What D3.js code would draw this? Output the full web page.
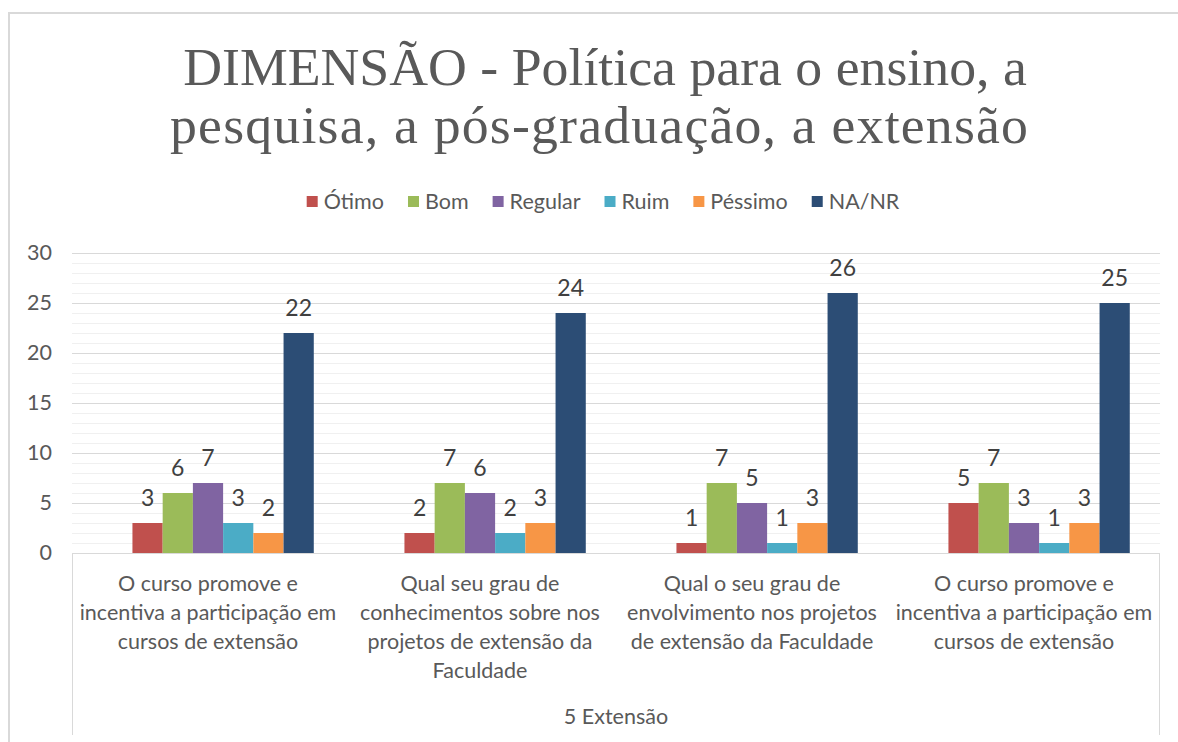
<!DOCTYPE html>
<html>
<head>
<meta charset="utf-8">
<script src="https://cdn.jsdelivr.net/npm/d3@7"></script>
<style>
    body { margin: 0; background: #fff; }
    svg { display: block; }
    text { font-family: Lato, 'Open Sans', sans-serif; }
</style>
</head>
<body>
<div id="chart"></div>
<script>
// * * * data * * *
const titleLines = ['DIMENSÃO - Política para o ensino, a', 'pesquisa, a pós-graduação, a extensão'];
const seriesNames = ['Ótimo', 'Bom', 'Regular', 'Ruim', 'Péssimo', 'NA/NR'];
const seriesColors = ['#C0504D', '#9BBB59', '#8064A2', '#4BACC6', '#F79646', '#2C4D75'];
const categoryLabels = [
    ['O curso promove e', 'incentiva a participação em', 'cursos de extensão'],
    ['Qual seu grau de', 'conhecimentos sobre nos', 'projetos de extensão da', 'Faculdade'],
    ['Qual o seu grau de', 'envolvimento nos projetos', 'de extensão da Faculdade'],
    ['O curso promove e', 'incentiva a participação em', 'cursos de extensão'],
];
const groupLabel = '5 Extensão';
const otimo = [3, 2, 1, 5];
const bom = [6, 7, 7, 7];
const regular = [7, 6, 5, 3];
const ruim = [3, 2, 1, 1];
const pessimo = [2, 3, 3, 3];
const nanr = [22, 24, 26, 25];
const yTicks = [0, 5, 10, 15, 20, 25, 30];

const seriesValues = [otimo, bom, regular, ruim, pessimo, nanr];

const width = 1178;
const height = 742;
const plot = { left: 72, right: 1160, top: 253, bottom: 553 };
const textSize = '21.5px';

const svg = d3
    .select('#chart')
    .append('svg')
    .attr('width', width)
    .attr('height', height);

// outer chart border
svg.append('rect')
    .attr('x', 9)
    .attr('y', 13)
    .attr('width', 1200)
    .attr('height', 760)
    .attr('fill', '#fff')
    .attr('stroke', '#d9d9d9')
    .attr('stroke-width', 2);

// title, fitted to the width it has in the picture
const titleWidths = [844, 858];
const title = svg
    .append('g')
    .selectAll('text')
    .data(titleLines)
    .enter()
    .append('text')
    .attr('x', 605)
    .attr('y', (d, i) => 85 + i * 58)
    .attr('text-anchor', 'middle')
    .style('font-family', "'Liberation Serif', 'DejaVu Serif', serif")
    .style('font-size', '50px')
    .attr('fill', '#595959')
    .text((d) => d);
const measured = title.nodes()[0].getComputedTextLength();
title.style('font-size', (50 * titleWidths[0]) / measured + 'px');
title.filter((d, i) => i === 1).attr('x', 599).attr('textLength', titleWidths[1]).attr('lengthAdjust', 'spacing');

// scales
const x0 = d3
    .scaleBand()
    .domain(d3.range(categoryLabels.length))
    .range([plot.left, plot.right]);

// one empty slot before the first series, as in the original
const x1 = d3
    .scaleBand()
    .domain(['', ...seriesNames])
    .range([0, x0.bandwidth()])
    .paddingOuter(1);

const y = d3.scaleLinear().domain([0, 30]).range([plot.bottom, plot.top]);

// minor and major gridlines
svg.append('g')
    .selectAll('line')
    .data(d3.range(1, 30).filter((v) => v % 5 !== 0))
    .enter()
    .append('line')
    .attr('x1', plot.left)
    .attr('x2', plot.right)
    .attr('y1', (d) => Math.round(y(d)) + 0.5)
    .attr('y2', (d) => Math.round(y(d)) + 0.5)
    .attr('stroke', '#f0f0f0');

svg.append('g')
    .selectAll('line')
    .data(yTicks.slice(1))
    .enter()
    .append('line')
    .attr('x1', plot.left)
    .attr('x2', plot.right)
    .attr('y1', (d) => Math.round(y(d)) + 0.5)
    .attr('y2', (d) => Math.round(y(d)) + 0.5)
    .attr('stroke', '#d9d9d9');

// y axis labels
const yAxis = svg
    .append('g')
    .attr('transform', `translate(52, 0)`)
    .call(d3.axisLeft(y).tickValues(yTicks).tickSize(0).tickPadding(0));
yAxis.select('.domain').remove();
yAxis
    .selectAll('text')
    .attr('fill', '#595959')
    .style('font-family', "Lato, 'Open Sans', sans-serif")
    .style('font-size', textSize);

// bars
const groups = svg
    .append('g')
    .selectAll('g')
    .data(seriesNames)
    .enter()
    .append('g')
    .attr('fill', (d, i) => seriesColors[i]);

groups
    .selectAll('rect')
    .data((name, i) => seriesValues[i].map((v, c) => ({ name, v, c })))
    .enter()
    .append('rect')
    .attr('x', (d) => x0(d.c) + x1(d.name))
    .attr('width', x1.bandwidth())
    .attr('y', (d) => y(d.v))
    .attr('height', (d) => y(0) - y(d.v));

// value labels
groups
    .selectAll('text')
    .data((name, i) => seriesValues[i].map((v, c) => ({ name, v, c })))
    .enter()
    .append('text')
    .attr('x', (d) => x0(d.c) + x1(d.name) + x1.bandwidth() / 2)
    .attr('y', (d) => y(d.v) - 17)
    .attr('text-anchor', 'middle')
    .attr('fill', '#404040')
    .style('font-size', '23px')
    .text((d) => d.v);

// category axis box
const axisBox = svg.append('g').attr('stroke', '#d9d9d9').attr('fill', 'none');
axisBox.append('line').attr('x1', plot.left).attr('x2', plot.right).attr('y1', plot.bottom + 0.5).attr('y2', plot.bottom + 0.5);
axisBox.append('line').attr('x1', plot.left + 0.5).attr('x2', plot.left + 0.5).attr('y1', plot.bottom).attr('y2', 735);
axisBox.append('line').attr('x1', plot.right - 0.5).attr('x2', plot.right - 0.5).attr('y1', plot.bottom).attr('y2', 735);

// category labels
svg.append('g')
    .selectAll('text')
    .data(categoryLabels)
    .enter()
    .append('text')
    .attr('text-anchor', 'middle')
    .attr('fill', '#595959')
    .style('font-size', textSize)
    .each(function (lines, c) {
        d3.select(this)
            .selectAll('tspan')
            .data(lines)
            .enter()
            .append('tspan')
            .attr('x', x0(c) + x0.bandwidth() / 2)
            .attr('y', (d, i) => 591 + i * 29)
            .text((d) => d);
    });

svg.append('text')
    .attr('x', (plot.left + plot.right) / 2)
    .attr('y', 724)
    .attr('text-anchor', 'middle')
    .attr('fill', '#595959')
    .style('font-size', textSize)
    .text(groupLabel);

// legend, laid out from the text widths
const legend = svg.append('g').attr('transform', 'translate(0, 202)');
const items = legend
    .selectAll('g')
    .data(seriesNames)
    .enter()
    .append('g');
items
    .append('rect')
    .attr('y', -6)
    .attr('width', 11)
    .attr('height', 11)
    .attr('fill', (d, i) => seriesColors[i]);
items
    .append('text')
    .attr('x', 17)
    .attr('y', 7)
    .attr('fill', '#595959')
    .style('font-size', textSize)
    .text((d) => d);

let cursor = 0;
const offsets = [];
items.each(function () {
    offsets.push(cursor);
    cursor += 17 + d3.select(this).select('text').node().getComputedTextLength() + 24;
});
const legendWidth = cursor - 24;
const legendStart = 603 - legendWidth / 2;
items.attr('transform', (d, i) => `translate(${legendStart + offsets[i]}, 0)`);
</script>
</body>
</html>
